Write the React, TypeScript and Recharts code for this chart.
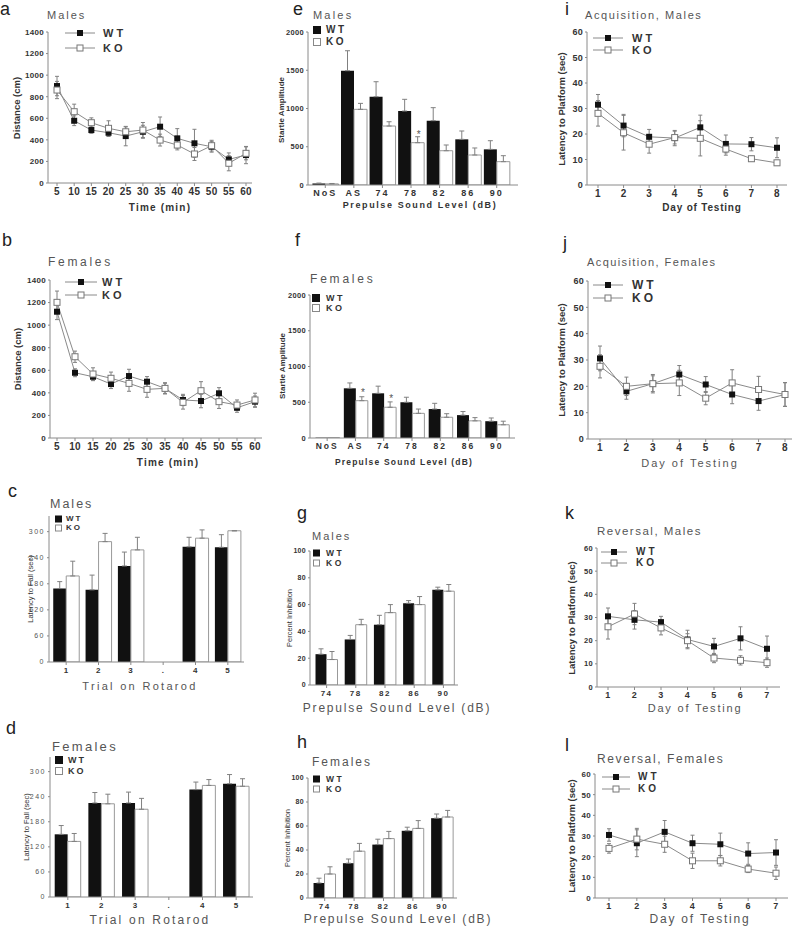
import React from 'react';
import { LineChart, Line, BarChart, Bar, XAxis, YAxis, ErrorBar, LabelList } from 'recharts';

const FONT = '"Liberation Sans", Arial, Helvetica, sans-serif';
const AXIS = '#8a8a8a';
const LINE = '#8a8a8a';
const ERR = '#808080';
const INK = '#333';

// categories / tick labels
const timeMin = ['5', '10', '15', '20', '25', '30', '35', '40', '45', '50', '55', '60'];
const rotarodTrials = ['1', '2', '3', '.', '4', '5'];
const startleLevels = ['NoS', 'AS', '74', '78', '82', '86', '90'];
const ppiLevels = ['74', '78', '82', '86', '90'];
const acqDays = ['1', '2', '3', '4', '5', '6', '7', '8'];
const revDays = ['1', '2', '3', '4', '5', '6', '7'];

// a: open field, males (cm)
const aWT = [899, 577, 491, 466, 435, 475, 522, 414, 368, 336, 219, 259];
const aWTErr = [90, 45, 30, 35, 90, 60, 90, 90, 130, 50, 60, 80];
const aKO = [862, 661, 559, 507, 475, 491, 398, 352, 269, 346, 183, 275];
const aKOErr = [80, 70, 45, 70, 45, 70, 55, 45, 60, 50, 70, 60];

// b: open field, females (cm)
const bWT = [1119, 578, 543, 478, 549, 499, 440, 337, 328, 396, 268, 322];
const bWTErr = [70, 35, 35, 40, 60, 45, 50, 50, 60, 50, 40, 50];
const bKO = [1202, 720, 567, 529, 484, 431, 440, 316, 419, 322, 292, 337];
const bKOErr = [100, 50, 55, 55, 70, 70, 45, 60, 80, 60, 45, 60];

// c: rotarod, males (sec)
const cWT = [169, 166, 221, null, 265, 264];
const cWTErr = [16, 34, 32, null, 22, 29];
const cKO = [198, 277, 258, null, 285, 302];
const cKOErr = [34, 19, 29, null, 19, 0];

// d: rotarod, females (sec)
const dWT = [150, 225, 225, null, 257, 271];
const dWTErr = [21, 25, 26, null, 18, 22];
const dKO = [133, 223, 210, null, 267, 265];
const dKOErr = [19, 23, 26, null, 14, 18];

// e: startle, males
const eWT = [20, 1494, 1154, 967, 841, 597, 466];
const eWTErr = [5, 261, 196, 153, 170, 109, 113];
const eKO = [15, 989, 771, 553, 448, 392, 305];
const eKOErr = [5, 78, 56, 78, 75, 92, 78];
const eSig = [null, null, null, '*', null, null, null];

// f: startle, females
const fWT = [5, 695, 625, 500, 405, 320, 235];
const fWTErr = [null, 75, 100, 70, 80, 50, 45];
const fKO = [5, 522, 430, 345, 290, 240, 185];
const fKOErr = [null, 55, 75, 60, 50, 45, 50];
const fSig = [null, '*', '*', null, null, null, null];

// g: prepulse inhibition, males (%)
const gWT = [23, 34, 45, 61, 71];
const gWTErr = [4, 3, 7, 2, 2];
const gKO = [19, 45, 54, 60, 70];
const gKOErr = [6, 4, 6, 6, 5];

// h: prepulse inhibition, females (%)
const hWT = [12.5, 29, 44.5, 56, 66.5];
const hWTErr = [4, 3.5, 4.5, 3, 3.5];
const hKO = [20, 39, 49.5, 58, 67.5];
const hKOErr = [6, 6.5, 6, 6.5, 5.5];

// i: acquisition, males (sec)
const iWT = [31.5, 23.3, 18.9, 18.4, 22.6, 16.1, 16, 14.6];
const iWTErr = [4, 4.4, 2.9, 3, 4.8, 3.5, 2.6, 3.9];
const iKO = [28.1, 20.5, 16, 18.6, 18.3, 14.1, 10.3, 8.7];
const iKOErr = [5, 6.8, 3.5, 2.5, 6.9, 2.4, 1, 1];

// j: acquisition, females (sec)
const jWT = [30.6, 18.1, 21, 24.5, 20.7, 16.9, 14.4, 16.9];
const jWTErr = [4.7, 3, 3, 3.4, 3, 3.5, 3.5, 4.5];
const jKO = [27.6, 20, 21, 21.3, 15.5, 21.3, 18.8, 16.9];
const jKOErr = [4.4, 3.5, 3.5, 4.8, 2.5, 5, 5, 4.5];

// k: reversal, males (sec)
const kWT = [30.5, 29, 28, 20.5, 17.5, 21, 16.5];
const kWTErr = [3.6, 4, 2.5, 4, 3.5, 5, 5.5];
const kKO = [26, 31.5, 25.5, 20, 12.5, 11.5, 10.5];
const kKOErr = [5.3, 4.6, 3, 3, 2, 2, 2];

// l: reversal, females (sec)
const lWT = [30.5, 26.5, 32, 26.5, 26, 21.5, 22];
const lWTErr = [3, 6.5, 5.5, 3.9, 5.4, 5.2, 6.2];
const lKO = [24, 28.5, 26, 18, 18, 14, 12];
const lKOErr = [2.3, 5.2, 3.9, 3.7, 2.5, 1.7, 3];

const distTicks = [0, 200, 400, 600, 800, 1000, 1200, 1400];
const rotTicks = [0, 60, 120, 180, 240, 300];
const startleTicks = [0, 500, 1000, 1500, 2000];
const pctTicks = [0, 20, 40, 60, 80, 100];
const latTicks = [0, 10, 20, 30, 40, 50, 60];

type Geo = { col: number; l: number; t: number; r: number; b: number };

const tk = (size: number, weight = 700, ls = 0.5, fill = INK) => ({
  fontSize: size, fontWeight: weight, letterSpacing: ls, fill, fontFamily: FONT,
});

function Txt({ x, y, children, mid = false, rot = false, style = {} }: any) {
  const transform = rot ? 'translate(-50%,-50%) rotate(-90deg)' : mid ? 'translate(-50%,-50%)' : 'translate(0,-50%)';
  return (
    <div style={{ position: 'absolute', left: x, top: y, transform, whiteSpace: 'nowrap', lineHeight: 1, fontFamily: FONT, color: INK, ...style }}>
      {children}
    </div>
  );
}

const wtDot = (p: any) => <rect key={`w${p.index}`} x={p.cx - 3} y={p.cy - 3} width={6} height={6} fill="#111" />;
const koDot = (p: any) => <rect key={`k${p.index}`} x={p.cx - 3} y={p.cy - 3} width={6} height={6} fill="#fff" stroke="#777" />;

function LinePanel({ g, cats, wt, wtErr, ko, koErr, yMax, yTicks, pad, xTick, yTick }: any) {
  const data = cats.map((c: string, i: number) => ({ c, wt: wt[i], ko: ko[i], wtE: wtErr[i], koE: koErr[i] }));
  const top = g.t - 12;
  return (
    <div style={{ position: 'absolute', left: g.col, top }}>
      <LineChart width={g.r - g.col + 6} height={g.b + 26 - top} data={data} margin={{ top: 12, right: 6, left: 0, bottom: 0 }}>
        <XAxis dataKey="c" padding={{ left: pad[0], right: pad[1] }} height={26} interval={0} tickSize={3} tickMargin={2} stroke={AXIS} tick={xTick} />
        <YAxis width={g.l - g.col} domain={[0, yMax]} ticks={yTicks} interval={0} tickSize={2} tickMargin={2} stroke={AXIS} tick={yTick} allowDataOverflow />
        <Line dataKey="wt" stroke={LINE} strokeWidth={1} dot={wtDot} isAnimationActive={false}>
          <ErrorBar dataKey="wtE" width={2} stroke={ERR} strokeWidth={1} direction="y" />
        </Line>
        <Line dataKey="ko" stroke={LINE} strokeWidth={1} dot={koDot} isAnimationActive={false}>
          <ErrorBar dataKey="koE" width={2} stroke={ERR} strokeWidth={1} direction="y" />
        </Line>
      </LineChart>
    </div>
  );
}

const star = (p: any) =>
  p.value ? (
    <text key={`s${p.index}`} x={p.x + p.width / 2 + 1} y={p.y - 5} textAnchor="middle" fontSize={10} fill="#555" fontFamily={FONT}>
      {p.value}
    </text>
  ) : null;

function BarPanel({ g, cats, wt, wtErr, ko, koErr, sig, yMax, yTicks, pad, gap, xTick, yTick }: any) {
  const data = cats.map((c: string, i: number) => ({
    c, wt: wt[i], ko: ko[i],
    wtE: wtErr[i] == null ? undefined : [0, wtErr[i]],
    koE: koErr[i] == null ? undefined : [0, koErr[i]],
    sig: sig ? sig[i] : null,
  }));
  const top = g.t - 12;
  return (
    <div style={{ position: 'absolute', left: g.col, top }}>
      <BarChart width={g.r - g.col + 6} height={g.b + 26 - top} data={data} margin={{ top: 12, right: 6, left: 0, bottom: 0 }} barGap={0} barCategoryGap={gap}>
        <XAxis dataKey="c" padding={{ left: pad[0], right: pad[1] }} height={26} interval={0} tickSize={3} tickMargin={2} stroke={AXIS} tick={xTick} />
        <YAxis width={g.l - g.col} domain={[0, yMax]} ticks={yTicks} interval={0} tickSize={2} tickMargin={2} stroke={AXIS} tick={yTick} allowDataOverflow />
        <Bar dataKey="wt" fill="#111" isAnimationActive={false}>
          <ErrorBar dataKey="wtE" width={2.5} stroke={ERR} strokeWidth={1} direction="y" />
        </Bar>
        <Bar dataKey="ko" fill="#fff" stroke="#999" strokeWidth={1} isAnimationActive={false}>
          <ErrorBar dataKey="koE" width={2.5} stroke={ERR} strokeWidth={1} direction="y" />
          <LabelList dataKey="sig" content={star} />
        </Bar>
      </BarChart>
    </div>
  );
}

function LineLegend({ x1, x2, y1, y2, tx, size = 11, ls = 3 }: any) {
  const m = (x1 + x2) / 2;
  const st = { fontSize: size, fontWeight: 700, letterSpacing: ls };
  return (
    <>
      <svg width={1} height={1} style={{ position: 'absolute', left: 0, top: 0, overflow: 'visible' }}>
        <line x1={x1} x2={x2} y1={y1} y2={y1} stroke={LINE} />
        <rect x={m - 3} y={y1 - 3} width={6} height={6} fill="#111" />
        <line x1={x1} x2={x2} y1={y2} y2={y2} stroke={LINE} />
        <rect x={m - 3} y={y2 - 3} width={6} height={6} fill="#fff" stroke="#777" />
      </svg>
      <Txt x={tx} y={y1} style={st}>WT</Txt>
      <Txt x={tx} y={y2} style={st}>KO</Txt>
    </>
  );
}

function BarLegend({ x, y1, y2, s, tx, size = 9, ls = 2.5 }: any) {
  const st = { fontSize: size, fontWeight: 700, letterSpacing: ls };
  return (
    <>
      <svg width={1} height={1} style={{ position: 'absolute', left: 0, top: 0, overflow: 'visible' }}>
        <rect x={x} y={y1 - s / 2} width={s} height={s} fill="#111" />
        <rect x={x + 0.5} y={y2 - s / 2 + 0.5} width={s - 1} height={s - 1} fill="#fff" stroke="#888" />
      </svg>
      <Txt x={tx} y={y1} style={st}>WT</Txt>
      <Txt x={tx} y={y2} style={st}>KO</Txt>
    </>
  );
}

const letterSt = { fontSize: 18, color: '#222' };
const ttl = (size: number, ls: number) => ({ fontSize: size, letterSpacing: ls, color: '#555' });

export default function App() {
  const ga: Geo = { col: 0, l: 48, t: 32, r: 252, b: 183 };
  const gb: Geo = { col: 0, l: 50, t: 280, r: 262, b: 438 };
  const gc: Geo = { col: 0, l: 49, t: 516, r: 244, b: 662 };
  const gd: Geo = { col: 0, l: 50, t: 757, r: 253, b: 897 };
  const ge: Geo = { col: 265, l: 308, t: 32, r: 518, b: 185 };
  const gf: Geo = { col: 265, l: 310, t: 295, r: 515, b: 438 };
  const gg: Geo = { col: 265, l: 310, t: 551, r: 458, b: 685 };
  const gh: Geo = { col: 265, l: 308, t: 778, r: 457, b: 898 };
  const gi: Geo = { col: 530, l: 587, t: 32, r: 787, b: 185 };
  const gj: Geo = { col: 530, l: 588, t: 281, r: 792, b: 439 };
  const gk: Geo = { col: 530, l: 597, t: 548, r: 780, b: 687 };
  const gl: Geo = { col: 530, l: 595, t: 774, r: 788, b: 898 };

  return (
    <div style={{ position: 'absolute', left: 0, top: 0, width: 800, height: 950, background: '#fff', overflow: 'hidden', fontFamily: FONT }}>
      {/* column 1 */}
      <LinePanel g={ga} cats={timeMin} wt={aWT} wtErr={aWTErr} ko={aKO} koErr={aKOErr} yMax={1400} yTicks={distTicks} pad={[9, 6]} xTick={tk(10, 700, 0.3)} yTick={tk(8, 700, 0.3)} />
      <LinePanel g={gb} cats={timeMin} wt={bWT} wtErr={bWTErr} ko={bKO} koErr={bKOErr} yMax={1400} yTicks={distTicks} pad={[7, 7]} xTick={tk(10, 700, 0.3)} yTick={tk(8, 700, 0.3)} />
      <BarPanel g={gc} cats={rotarodTrials} wt={cWT} wtErr={cWTErr} ko={cKO} koErr={cKOErr} yMax={336} yTicks={rotTicks} pad={[1, 0]} gap="10%" xTick={tk(8, 700, 0.5)} yTick={tk(7, 400, 1.5, '#555')} />
      <BarPanel g={gd} cats={rotarodTrials} wt={dWT} wtErr={dWTErr} ko={dKO} koErr={dKOErr} yMax={335} yTicks={rotTicks} pad={[1, 0]} gap="11%" xTick={tk(8, 700, 0.5)} yTick={tk(7, 400, 1.5, '#555')} />
      {/* column 2 */}
      <BarPanel g={ge} cats={startleLevels} wt={eWT} wtErr={eWTErr} ko={eKO} koErr={eKOErr} sig={eSig} yMax={2000} yTicks={startleTicks} pad={[3, 7]} gap="5%" xTick={tk(9, 700, 2)} yTick={tk(7.5, 700, 0.3)} />
      <BarPanel g={gf} cats={startleLevels} wt={fWT} wtErr={fWTErr} ko={fKO} koErr={fKOErr} sig={fSig} yMax={2000} yTicks={startleTicks} pad={[3, 4]} gap="9%" xTick={tk(8.5, 700, 2)} yTick={tk(7.5, 700, 0.3)} />
      <BarPanel g={gg} cats={ppiLevels} wt={gWT} wtErr={gWTErr} ko={gKO} koErr={gKOErr} yMax={100} yTicks={pctTicks} pad={[2, 0]} gap="12%" xTick={tk(8, 700, 1.5)} yTick={tk(7, 700, 0.3)} />
      <BarPanel g={gh} cats={ppiLevels} wt={hWT} wtErr={hWTErr} ko={hKO} koErr={hKOErr} yMax={100} yTicks={pctTicks} pad={[2, 0]} gap="12%" xTick={tk(8, 700, 1.5)} yTick={tk(7, 700, 0.3)} />
      {/* column 3 */}
      <LinePanel g={gi} cats={acqDays} wt={iWT} wtErr={iWTErr} ko={iKO} koErr={iKOErr} yMax={60} yTicks={latTicks} pad={[11, 10]} xTick={tk(10, 700, 0.3)} yTick={tk(9, 700, 0.3)} />
      <LinePanel g={gj} cats={acqDays} wt={jWT} wtErr={jWTErr} ko={jKO} koErr={jKOErr} yMax={60} yTicks={latTicks} pad={[12, 7]} xTick={tk(10, 700, 0.3)} yTick={tk(9, 700, 0.3)} />
      <LinePanel g={gk} cats={revDays} wt={kWT} wtErr={kWTErr} ko={kKO} koErr={kKOErr} yMax={60} yTicks={latTicks} pad={[11, 13]} xTick={tk(9, 700, 0.3)} yTick={tk(7.5, 700, 0.3)} />
      <LinePanel g={gl} cats={revDays} wt={lWT} wtErr={lWTErr} ko={lKO} koErr={lKOErr} yMax={60} yTicks={latTicks} pad={[14, 12]} xTick={tk(9, 700, 0.3)} yTick={tk(8, 700, 0.3)} />

      {/* panel letters */}
      <Txt x={0} y={9} style={letterSt}>a</Txt>
      <Txt x={2} y={240} style={letterSt}>b</Txt>
      <Txt x={8} y={491} style={letterSt}>c</Txt>
      <Txt x={6} y={728} style={letterSt}>d</Txt>
      <Txt x={293} y={9} style={letterSt}>e</Txt>
      <Txt x={295} y={240} style={letterSt}>f</Txt>
      <Txt x={297} y={513} style={letterSt}>g</Txt>
      <Txt x={297} y={742} style={letterSt}>h</Txt>
      <Txt x={565} y={9} style={letterSt}>i</Txt>
      <Txt x={563} y={243} style={letterSt}>j</Txt>
      <Txt x={565} y={513} style={letterSt}>k</Txt>
      <Txt x={565} y={745} style={letterSt}>l</Txt>

      {/* panel titles */}
      <Txt x={47} y={15} style={ttl(11, 2)}>Males</Txt>
      <Txt x={48} y={262} style={ttl(12, 2.7)}>Females</Txt>
      <Txt x={50} y={504} style={ttl(12.5, 2)}>Males</Txt>
      <Txt x={52} y={746} style={ttl(13, 2.3)}>Females</Txt>
      <Txt x={313} y={15} style={ttl(11, 2.2)}>Males</Txt>
      <Txt x={310} y={279} style={ttl(12, 2.8)}>Females</Txt>
      <Txt x={312} y={536} style={ttl(11, 2)}>Males</Txt>
      <Txt x={312} y={762} style={ttl(12, 2)}>Females</Txt>
      <Txt x={585} y={15} style={ttl(11, 1.6)}>Acquisition, Males</Txt>
      <Txt x={587} y={262} style={ttl(11, 1.4)}>Acquisition, Females</Txt>
      <Txt x={597} y={532} style={ttl(11.5, 1.5)}>Reversal, Males</Txt>
      <Txt x={597} y={759} style={ttl(12, 1.6)}>Reversal, Females</Txt>

      {/* legends */}
      <LineLegend x1={65} x2={95} y1={33} y2={48} tx={103} />
      <LineLegend x1={65} x2={97} y1={282} y2={295} tx={102} />
      <LineLegend x1={593} x2={623} y1={38} y2={50} tx={632} />
      <LineLegend x1={593} x2={623} y1={285} y2={298} tx={632} size={12} />
      <LineLegend x1={601} x2={627} y1={552} y2={563} tx={636} size={10} />
      <LineLegend x1={602} x2={630} y1={777} y2={789} tx={638} size={10} />
      <BarLegend x={55} y1={519} y2={528} s={7} tx={66} size={8} ls={2} />
      <BarLegend x={55} y1={760} y2={771} s={8} tx={68} size={9} ls={2} />
      <BarLegend x={313} y1={30} y2={42} s={8} tx={326} size={10} ls={2.5} />
      <BarLegend x={312} y1={298} y2={308} s={8} tx={326} size={9} ls={2.5} />
      <BarLegend x={313} y1={553} y2={563} s={7} tx={326} size={8.5} ls={2.5} />
      <BarLegend x={313} y1={779} y2={789} s={7} tx={326} size={8.5} ls={2.5} />

      {/* x axis titles */}
      <Txt x={160} y={208} mid style={{ fontSize: 10, fontWeight: 700, letterSpacing: 1.2 }}>Time (min)</Txt>
      <Txt x={168} y={463} mid style={{ fontSize: 10, fontWeight: 700, letterSpacing: 1.2 }}>Time (min)</Txt>
      <Txt x={140} y={686} mid style={{ fontSize: 11, letterSpacing: 2.3, color: '#555' }}>Trial on Rotarod</Txt>
      <Txt x={150} y={920} mid style={{ fontSize: 12, letterSpacing: 2.2, color: '#555' }}>Trial on Rotarod</Txt>
      <Txt x={420} y={205} mid style={{ fontSize: 9, fontWeight: 700, letterSpacing: 1.6 }}>Prepulse Sound Level (dB)</Txt>
      <Txt x={404} y={462} mid style={{ fontSize: 8.5, fontWeight: 700, letterSpacing: 1.2 }}>Prepulse Sound Level (dB)</Txt>
      <Txt x={397} y={708} mid style={{ fontSize: 12, letterSpacing: 1.8, color: '#555' }}>Prepulse Sound Level (dB)</Txt>
      <Txt x={398} y={919} mid style={{ fontSize: 12, letterSpacing: 1.8, color: '#555' }}>Prepulse Sound Level (dB)</Txt>
      <Txt x={702} y={208} mid style={{ fontSize: 10, fontWeight: 700, letterSpacing: 0.8 }}>Day of Testing</Txt>
      <Txt x={690} y={463} mid style={{ fontSize: 11, letterSpacing: 2, color: '#555' }}>Day of Testing</Txt>
      <Txt x={695} y={708} mid style={{ fontSize: 11, letterSpacing: 1.8, color: '#555' }}>Day of Testing</Txt>
      <Txt x={700} y={919} mid style={{ fontSize: 12, letterSpacing: 1.8, color: '#555' }}>Day of Testing</Txt>

      {/* y axis titles */}
      <Txt x={17} y={108} rot style={{ fontSize: 9.5, fontWeight: 700 }}>Distance (cm)</Txt>
      <Txt x={18} y={359} rot style={{ fontSize: 9.5, fontWeight: 700 }}>Distance (cm)</Txt>
      <Txt x={31} y={589} rot style={{ fontSize: 7.5 }}>Latency to Fall (sec)</Txt>
      <Txt x={27} y={827} rot style={{ fontSize: 7.5 }}>Latency to Fall (sec)</Txt>
      <Txt x={282} y={110} rot style={{ fontSize: 8, fontWeight: 700 }}>Startle Amplitude</Txt>
      <Txt x={283} y={366} rot style={{ fontSize: 8, fontWeight: 700 }}>Startle Amplitude</Txt>
      <Txt x={290} y={618} rot style={{ fontSize: 7.5 }}>Percent Inhibition</Txt>
      <Txt x={288} y={838} rot style={{ fontSize: 7.5 }}>Percent Inhibition</Txt>
      <Txt x={562} y={109} rot style={{ fontSize: 9.5, fontWeight: 700 }}>Latency to Platform (sec)</Txt>
      <Txt x={562} y={360} rot style={{ fontSize: 9.5, fontWeight: 700 }}>Latency to Platform (sec)</Txt>
      <Txt x={572} y={618} rot style={{ fontSize: 9.5, fontWeight: 700 }}>Latency to Platform (sec)</Txt>
      <Txt x={572} y={836} rot style={{ fontSize: 9.5, fontWeight: 700 }}>Latency to Platform (sec)</Txt>
    </div>
  );
}
